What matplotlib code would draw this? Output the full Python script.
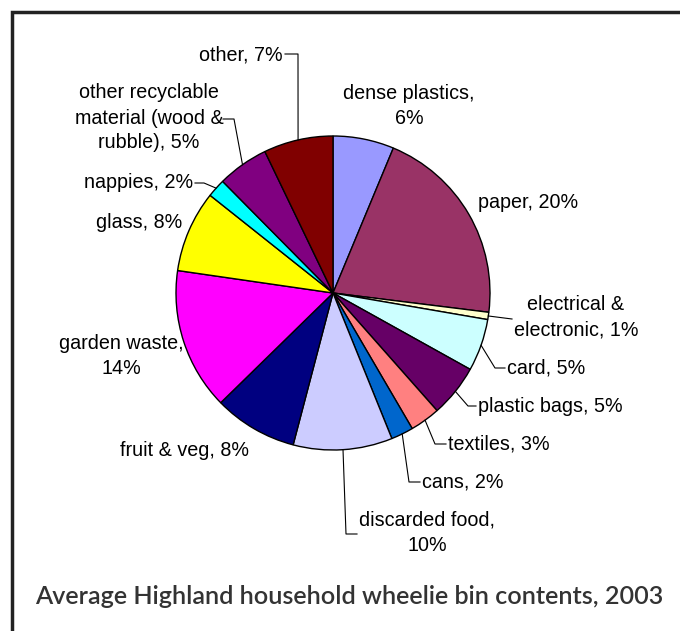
import numpy as np
import matplotlib
matplotlib.use("Agg")
import matplotlib.pyplot as plt

# slices, clockwise from 12 o'clock
categories = ["dense plastics", "paper", "electrical & electronic", "card",
              "plastic bags", "textiles", "cans", "discarded food",
              "fruit & veg", "garden waste", "glass", "nappies",
              "other recyclable material (wood & rubble)", "other"]
shares = [6.28, 20.68, 0.75, 5.37, 5.39, 3.11, 2.30, 10.20,
          8.60, 14.60, 8.40, 1.90, 5.27, 7.14]
label_texts = ["dense plastics,\n6%", "paper, 20%", "electrical &\nelectronic, 1%",
               "card, 5%", "plastic bags, 5%", "textiles, 3%", "cans, 2%",
               "discarded food,\n10%", "fruit & veg, 8%", "garden waste,\n14%",
               "glass, 8%", "nappies, 2%",
               "other recyclable\nmaterial (wood &\nrubble), 5%", "other, 7%"]
colors = ["#9999FF", "#993366", "#FFFFCC", "#CCFFFF", "#660066", "#FF8080",
          "#0066CC", "#CCCCFF", "#000080", "#FF00FF", "#FFFF00", "#00FFFF",
          "#800080", "#800000"]

title = "Average Highland household wheelie bin contents, 2003"

# label placement in pixel coords: (x, y, ha, leader elbow points)
label_pos = [
    (409, 106, "center", None),
    (478, 202, "left", None),
    (576, 317, "center", [(512, 319)]),
    (507, 368, "left", [(495, 368), (505, 368)]),
    (478, 406, "left", [(468, 406), (476, 406)]),
    (448, 444, "left", [(435, 444), (446, 444)]),
    (422, 482, "left", [(409, 482), (420, 482)]),
    (427, 533, "center", [(346, 534), (357, 534)]),
    (185, 450, "center", None),
    (121, 356, "center", None),
    (139, 223, "center", None),
    (193, 183, "right", [(204, 183), (195, 183)]),
    (149, 118, "center", [(234, 119), (223, 119)]),
    (283, 55, "right", [(298, 54), (285, 54)]),
]

W, H = 680, 631
cx, cy, r = 333, 293, 157

fig = plt.figure(figsize=(W / 100, H / 100), dpi=100)
ax = fig.add_axes([0, 0, 1, 1])

# y axis inverted -> counterclock in data space is clockwise on screen
wedges, _ = ax.pie(shares, colors=colors, startangle=-90, counterclock=True,
                   center=(cx, cy), radius=r,
                   wedgeprops=dict(edgecolor="black", linewidth=1.0))
ax.set_xlim(0, W)
ax.set_ylim(H, 0)
ax.set_aspect("equal")
ax.axis("off")

for w, txt, (tx, ty, ha, elbow) in zip(wedges, label_texts, label_pos):
    ax.text(tx, ty, txt, ha=ha, va="center", multialignment="center",
            fontsize=14.2, family="Liberation Sans", color="black",
            linespacing=1.4)
    if elbow:
        mid = np.deg2rad((w.theta1 + w.theta2) / 2)
        xs = [cx + r * np.cos(mid)] + [p[0] for p in elbow]
        ys = [cy + r * np.sin(mid)] + [p[1] for p in elbow]
        ax.plot(xs, ys, color="black", lw=0.8)

# frame
ax.plot([12, 12, W + 5], [H + 5, 12, 12], color="#222222", lw=2.5,
        solid_joinstyle="miter", clip_on=False)

t = ax.text(35, 597, title, ha="left", va="center", fontsize=17,
            family="Lato", fontweight="semibold", color="#333333")
fig.canvas.draw()
bb = t.get_window_extent()
t.set_fontsize(17 * 628 / bb.width)

fig.savefig("out.png", dpi=100)
